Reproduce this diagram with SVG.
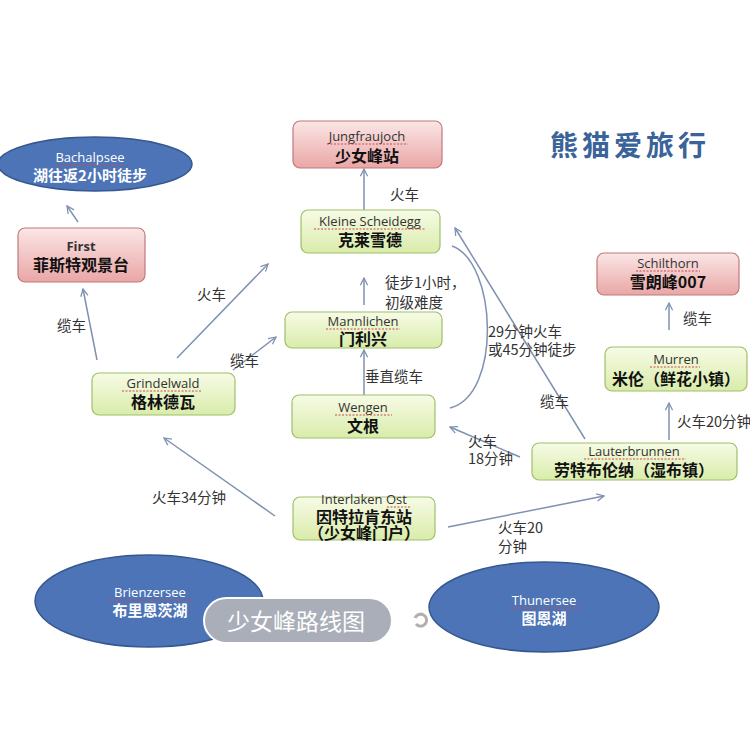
<svg xmlns="http://www.w3.org/2000/svg" width="750" height="748" viewBox="0 0 750 748">
<style>
.g{fill:url(#gg);stroke:#9fbf6a;stroke-width:1.2}
.p{fill:url(#pg);stroke:#c07a7a;stroke-width:1.2}
.lake{fill:#4c74b6;stroke:#35588f;stroke-width:1.5}
.en{font-family:"Open Sans","Liberation Sans",sans-serif;font-size:13px;fill:#333;text-anchor:middle}
.zh{font-family:"Noto Sans CJK SC",sans-serif;font-size:16px;font-weight:bold;fill:#111;text-anchor:middle}
.wen{font-family:"Open Sans","Liberation Sans",sans-serif;font-size:13px;fill:#fff;text-anchor:middle}
.wzh{font-family:"Noto Sans CJK SC",sans-serif;font-size:15px;font-weight:bold;fill:#fff;text-anchor:middle}
.lb{font-family:"Noto Sans CJK SC",sans-serif;font-size:14.5px;fill:#333}
.c{fill:none;stroke:#7f91b0;stroke-width:1.5}
.sq{stroke:#d04848;stroke-width:1;stroke-dasharray:2,1.5;fill:none}
</style>
<defs>
<linearGradient id="gg" x1="0" y1="0" x2="0" y2="1"><stop offset="0" stop-color="#f7fbe6"/><stop offset="1" stop-color="#d9ecaa"/></linearGradient>
<linearGradient id="pg" x1="0" y1="0" x2="0" y2="1"><stop offset="0" stop-color="#fbe6e6"/><stop offset="1" stop-color="#eaa6a6"/></linearGradient>
<marker id="ar" viewBox="0 0 10 10" refX="9" refY="5" markerWidth="9" markerHeight="9" markerUnits="userSpaceOnUse" orient="auto"><path d="M1,1 L9,5 L1,9" fill="none" stroke="#7f91b0" stroke-width="1.4"/></marker>
</defs>
<rect width="750" height="748" fill="#fff"/>

<g id="connectors">
<line class="c" x1="78" y1="222" x2="67" y2="206" marker-end="url(#ar)"/>
<line class="c" x1="97" y1="360" x2="83" y2="289" marker-end="url(#ar)"/>
<line class="c" x1="177" y1="358" x2="268" y2="264" marker-end="url(#ar)"/>
<line class="c" x1="233" y1="370" x2="276" y2="337" marker-end="url(#ar)"/>
<line class="c" x1="364" y1="210" x2="364" y2="169" marker-end="url(#ar)"/>
<line class="c" x1="364" y1="305" x2="364" y2="278" marker-end="url(#ar)"/>
<line class="c" x1="364" y1="395" x2="364" y2="350" marker-end="url(#ar)"/>
<path class="c" d="M452,246 C497,262 502,395 450,408"/>
<line class="c" x1="585" y1="439" x2="455" y2="228" marker-end="url(#ar)"/>
<line class="c" x1="520" y1="457" x2="450" y2="427" marker-end="url(#ar)"/>
<line class="c" x1="669" y1="440" x2="669" y2="403" marker-end="url(#ar)"/>
<line class="c" x1="669" y1="330" x2="669" y2="303" marker-end="url(#ar)"/>
<line class="c" x1="275" y1="516" x2="164" y2="438" marker-end="url(#ar)"/>
<line class="c" x1="448" y1="527" x2="604" y2="496" marker-end="url(#ar)"/>
<text class="lb" x="390" y="200">火车</text>
<text class="lb" x="57" y="331">缆车</text>
<text class="lb" x="197" y="300">火车</text>
<text class="lb" x="230" y="366">缆车</text>
<text class="lb" x="385" y="288">徒步1小时，</text>
<text class="lb" x="385" y="308">初级难度</text>
<text class="lb" x="365" y="382">垂直缆车</text>
<text class="lb" x="488" y="337">29分钟火车</text>
<text class="lb" x="488" y="355">或45分钟徒步</text>
<text class="lb" x="540" y="407">缆车</text>
<text class="lb" x="468" y="447">火车</text>
<text class="lb" x="468" y="464">18分钟</text>
<text class="lb" x="683" y="324">缆车</text>
<text class="lb" x="677" y="427" font-size="13">火车20分钟</text>
<text class="lb" x="152" y="503">火车34分钟</text>
<text class="lb" x="498" y="533">火车20</text>
<text class="lb" x="498" y="552">分钟</text>
</g>

<g id="title">
<text x="550" y="156" font-family="Noto Sans CJK SC,sans-serif" font-size="28" font-weight="bold" fill="#3a6399" letter-spacing="4">熊猫爱旅行</text>
</g>

<g id="bachalpsee">
<ellipse class="lake" cx="95" cy="164" rx="97" ry="27"/>
<text class="wen" x="90" y="162">Bachalpsee</text>
<path class="sq" d="M56,165 H124"/>
<text class="wzh" x="90" y="181">湖往返2小时徒步</text>
</g>

<g id="first">
<rect class="p" x="18" y="228" width="127" height="54" rx="7"/>
<text class="en" x="81" y="251" font-weight="bold">First</text>
<text class="zh" x="81" y="271">菲斯特观景台</text>
</g>

<g id="jungfraujoch">
<rect class="p" x="293" y="121" width="149" height="47" rx="7"/>
<text class="en" x="367" y="141">Jungfraujoch</text>
<path class="sq" d="M327,144 H408"/>
<text class="zh" x="367" y="162">少女峰站</text>
</g>

<g id="kleine">
<rect class="g" x="301" y="210" width="139" height="43" rx="7"/>
<text class="en" x="370" y="226">Kleine Scheidegg</text>
<path class="sq" d="M314,229 H426"/>
<text class="zh" x="370" y="246">克莱雪德</text>
</g>

<g id="schilthorn">
<rect class="p" x="597" y="253" width="142" height="42" rx="7"/>
<text class="en" x="668" y="268">Schilthorn</text>
<path class="sq" d="M636,271 H700"/>
<text class="zh" x="668" y="288">雪朗峰007</text>
</g>

<g id="grindelwald">
<rect class="g" x="92" y="373" width="143" height="42" rx="7"/>
<text class="en" x="163" y="388">Grindelwald</text>
<path class="sq" d="M122,391 H202"/>
<text class="zh" x="163" y="408">格林德瓦</text>
</g>

<g id="mannlichen">
<rect class="g" x="285" y="312" width="157" height="36" rx="7"/>
<text class="en" x="363" y="326">Mannlichen</text>
<path class="sq" d="M326,329 H400"/>
<text class="zh" x="363" y="345">门利兴</text>
</g>

<g id="wengen">
<rect class="g" x="292" y="395" width="143" height="43" rx="7"/>
<text class="en" x="363" y="412">Wengen</text>
<path class="sq" d="M335,415 H392"/>
<text class="zh" x="363" y="432">文根</text>
</g>

<g id="murren">
<rect class="g" x="605" y="347" width="142" height="44" rx="7"/>
<text class="en" x="676" y="364">Murren</text>
<path class="sq" d="M650,367 H700"/>
<text class="zh" x="676" y="385">米伦（鲜花小镇）</text>
</g>

<g id="lauterbrunnen">
<rect class="g" x="532" y="443" width="205" height="37" rx="7"/>
<text class="en" x="634" y="456">Lauterbrunnen</text>
<path class="sq" d="M584,459 H686"/>
<text class="zh" x="634" y="476" font-size="15">劳特布伦纳（湿布镇）</text>
</g>

<g id="interlaken">
<rect class="g" x="293" y="497" width="142" height="43" rx="7"/>
<text class="en" x="364" y="504">Interlaken Ost</text>
<path class="sq" d="M387,507 H411"/>
<text class="zh" x="364" y="523" font-size="15">因特拉肯东站</text>
<text class="zh" x="364" y="539" font-size="15">（少女峰门户）</text>
</g>

<g id="brienzersee">
<ellipse class="lake" cx="149" cy="601" rx="114" ry="46"/>
<text class="wen" x="150" y="597">Brienzersee</text>
<path class="sq" d="M110,600 H192"/>
<text class="wzh" x="150" y="616">布里恩茨湖</text>
</g>

<g id="thunersee">
<ellipse class="lake" cx="544" cy="607" rx="115" ry="45"/>
<text class="wen" x="544" y="605">Thunersee</text>
<path class="sq" d="M509,608 H580"/>
<text class="wzh" x="544" y="624">图恩湖</text>
</g>

<g id="overlay">
<rect x="204" y="598" width="188" height="45" rx="22.5" fill="#a9aeb8" stroke="#fff" stroke-width="2"/>
<text x="296" y="630" font-family="Noto Sans CJK SC,sans-serif" font-size="23" fill="#fff" text-anchor="middle">少女峰路线图</text>
<path d="M415,618 A6,6 0 1 1 416,624" fill="none" stroke="#b0b0b0" stroke-width="3"/>
</g>
</svg>
